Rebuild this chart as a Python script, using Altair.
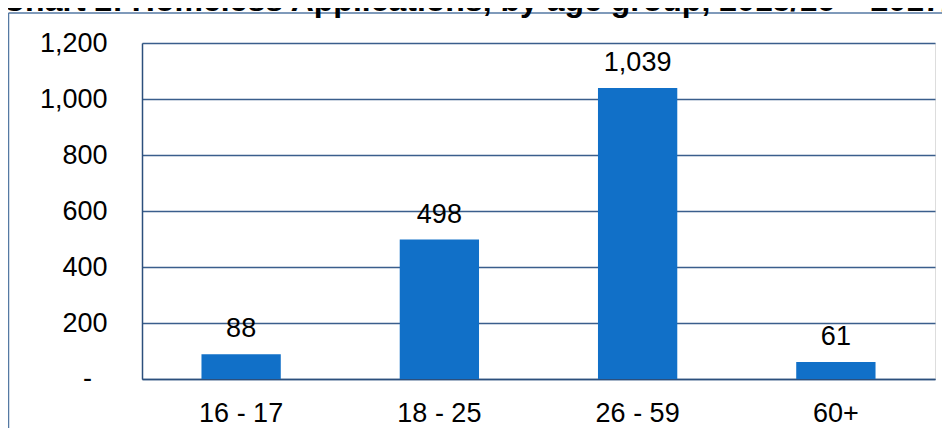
import altair as alt
import pandas as pd

categories = ["16 - 17", "18 - 25", "26 - 59", "60+"]
values = [88, 498, 1039, 61]
y_ticks = [0, 200, 400, 600, 800, 1000, 1200]
title_text = "Chart 2: Homeless Applications, by age group, 2015/16 \u2013 2017/18"

df = pd.DataFrame({"age": categories, "count": values})

FONT = "Liberation Sans"
FS = 27
BAR = "#1170c8"
GRID = "#3a5e8c"
AXIS = "#2c4f7c"
FRAME = "#5579a3"

x_enc = alt.X("age:N", sort=categories, title=None,
              scale=alt.Scale(paddingInner=0.6, paddingOuter=0.3),
              axis=alt.Axis(labelAngle=0, ticks=False, domain=True, domainColor=AXIS,
                            domainWidth=1.5, labelFontSize=FS, labelFont=FONT,
                            labelColor="black", labelPadding=21, grid=False))
y_enc = alt.Y("count:Q", title=None,
              scale=alt.Scale(domain=[0, 1200], nice=False),
              axis=alt.Axis(values=y_ticks, ticks=False, domain=True, domainColor=AXIS,
                            domainWidth=1.5, grid=True, gridColor=GRID, gridWidth=1.5,
                            labelFontSize=FS, labelFont=FONT, labelColor="black",
                            labelPadding=35,
                            labelExpr="datum.value == 0 ? '' : format(datum.value, ',')"))

bars = alt.Chart(df).mark_bar(color=BAR).encode(x=x_enc, y=y_enc)

labels = alt.Chart(df).mark_text(fontSize=FS, font=FONT, color="black",
                                 baseline="alphabetic", dy=-17).encode(
    x=alt.X("age:N", sort=categories),
    y=alt.Y("count:Q"),
    text=alt.Text("count:Q", format=","),
)

one = alt.Data(values=[{"k": 1}])
zero_label = alt.Chart(one).mark_text(fontSize=FS, font=FONT, color="black",
                                      align="right", baseline="middle").encode(
    x=alt.value(-50), y=alt.datum(0, type="quantitative"), text=alt.value("-"))
frame_left = alt.Chart(one).mark_rule(color=FRAME, strokeWidth=1.5).encode(
    x=alt.value(-133.5), y=alt.value(-30), y2=alt.value(400))
frame_top = alt.Chart(one).mark_rule(color=FRAME, strokeWidth=1.5).encode(
    x=alt.value(-133.5), x2=alt.value(820), y=alt.value(-30))
title = alt.Chart(one).mark_text(fontSize=32, font=FONT, fontWeight="bold", color="black",
                                 align="left", baseline="alphabetic").encode(
    x=alt.value(-140), y=alt.value(-32), text=alt.value(title_text))

chart = alt.layer(frame_left, frame_top, title, bars, labels, zero_label).properties(
    width=793, height=336,
    autosize=alt.AutoSizeParams(type="none"),
    padding={"left": 134, "top": 35, "right": 7, "bottom": 49},
).configure_view(stroke=None).configure(background="white")

chart.save("out.html", embed_options={"renderer": "svg", "actions": False})
